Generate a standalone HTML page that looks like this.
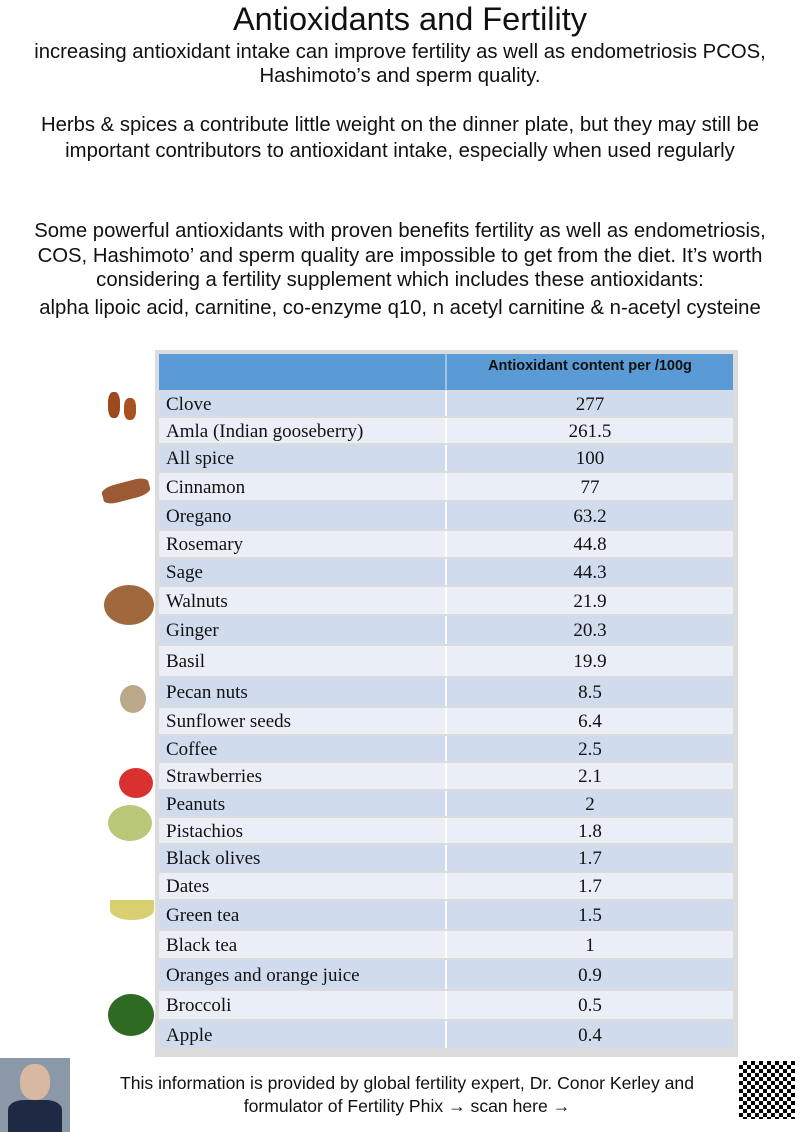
<!DOCTYPE html>
<html><head><meta charset="utf-8"><style>
body{margin:0;width:800px;height:1132px;background:#fff;position:relative;overflow:hidden;font-family:"Liberation Sans",sans-serif;color:#111}
.t{position:absolute;left:0;width:800px;text-align:center;white-space:nowrap}
.p{font-size:20.3px;line-height:24px}
.r{position:absolute;left:159px;width:574px;font-family:"Liberation Serif",serif;font-size:19px;line-height:20px;color:#111}
.r span{position:absolute;left:7px;top:50%;margin-top:-9px}
.r b{position:absolute;left:288px;width:286px;text-align:center;font-weight:normal;top:50%;margin-top:-9px}
.r i{position:absolute;left:286px;top:0;width:2px;height:100%;background:#fff}
.a{background:#d0dcee}.b{background:#e9eef7}
.ic{position:absolute;border-radius:50%}
</style></head><body>
<div class="t" style="top:0px;left:10px;font-size:32.5px;line-height:38px">Antioxidants and Fertility</div>
<div class="t p" style="top:40px">increasing antioxidant intake can improve fertility as well as endometriosis PCOS,</div>
<div class="t p" style="top:64px">Hashimoto’s and sperm quality.</div>
<div class="t p" style="top:113px">Herbs &amp; spices a contribute little weight on the dinner plate, but they may still be</div>
<div class="t p" style="top:139px">important contributors to antioxidant intake, especially when used regularly</div>
<div class="t p" style="top:219px">Some powerful antioxidants with proven benefits fertility as well as endometriosis,</div>
<div class="t p" style="top:244px">COS, Hashimoto’ and sperm quality are impossible to get from the diet. It’s worth</div>
<div class="t p" style="top:268px">considering a fertility supplement which includes these antioxidants:</div>
<div class="t p" style="top:296px">alpha lipoic acid, carnitine, co-enzyme q10, n acetyl carnitine &amp;  n-acetyl cysteine</div>
<div style="position:absolute;left:155px;top:350px;width:583px;height:707px;background:#dcdcdc"></div>
<div style="position:absolute;left:159px;top:354px;width:574px;height:36px;background:#5b9bd5"></div>
<div style="position:absolute;left:445px;top:354px;width:2px;height:36px;background:#9cc3e8"></div>
<div style="position:absolute;left:447px;top:358px;width:286px;text-align:center;font-weight:bold;font-size:14.5px">Antioxidant content per /100g</div>

<div class="r a" style="top:391px;height:25px"><span>Clove</span><i></i><b>277</b></div>
<div class="r b" style="top:418px;height:25px"><span>Amla (Indian gooseberry)</span><i></i><b>261.5</b></div>
<div class="r a" style="top:445px;height:26px"><span>All spice</span><i></i><b>100</b></div>
<div class="r b" style="top:473px;height:27px"><span>Cinnamon</span><i></i><b>77</b></div>
<div class="r a" style="top:502px;height:27px"><span>Oregano</span><i></i><b>63.2</b></div>
<div class="r b" style="top:531px;height:26px"><span>Rosemary</span><i></i><b>44.8</b></div>
<div class="r a" style="top:559px;height:26px"><span>Sage</span><i></i><b>44.3</b></div>
<div class="r b" style="top:587px;height:27px"><span>Walnuts</span><i></i><b>21.9</b></div>
<div class="r a" style="top:616px;height:28px"><span>Ginger</span><i></i><b>20.3</b></div>
<div class="r b" style="top:646px;height:30px"><span>Basil</span><i></i><b>19.9</b></div>
<div class="r a" style="top:678px;height:28px"><span>Pecan nuts</span><i></i><b>8.5</b></div>
<div class="r b" style="top:708px;height:26px"><span>Sunflower seeds</span><i></i><b>6.4</b></div>
<div class="r a" style="top:736px;height:25px"><span>Coffee</span><i></i><b>2.5</b></div>
<div class="r b" style="top:763px;height:26px"><span>Strawberries</span><i></i><b>2.1</b></div>
<div class="r a" style="top:791px;height:25px"><span>Peanuts</span><i></i><b>2</b></div>
<div class="r b" style="top:818px;height:25px"><span>Pistachios</span><i></i><b>1.8</b></div>
<div class="r a" style="top:845px;height:26px"><span>Black olives</span><i></i><b>1.7</b></div>
<div class="r b" style="top:873px;height:26px"><span>Dates</span><i></i><b>1.7</b></div>
<div class="r a" style="top:901px;height:28px"><span>Green tea</span><i></i><b>1.5</b></div>
<div class="r b" style="top:931px;height:27px"><span>Black tea</span><i></i><b>1</b></div>
<div class="r a" style="top:960px;height:29px"><span>Oranges and orange juice</span><i></i><b>0.9</b></div>
<div class="r b" style="top:991px;height:28px"><span>Broccoli</span><i></i><b>0.5</b></div>
<div class="r a" style="top:1021px;height:27px"><span>Apple</span><i></i><b>0.4</b></div>

<div class="ic" style="left:108px;top:392px;width:12px;height:26px;background:#9a4a1c;border-radius:40%"></div>
<div class="ic" style="left:124px;top:398px;width:12px;height:22px;background:#a8521f;border-radius:40%"></div>
<div class="ic" style="left:102px;top:482px;width:48px;height:18px;background:#9c5a34;border-radius:30%;transform:rotate(-15deg)"></div>
<div class="ic" style="left:104px;top:585px;width:50px;height:40px;background:#a0683d"></div>
<div class="ic" style="left:120px;top:685px;width:26px;height:28px;background:#bba88a"></div>
<div class="ic" style="left:119px;top:768px;width:34px;height:30px;background:#d93030"></div>
<div class="ic" style="left:108px;top:805px;width:44px;height:36px;background:#b8c878"></div>
<div class="ic" style="left:110px;top:900px;width:44px;height:20px;background:#d8d070;border-radius:0 0 50% 50%"></div>
<div class="ic" style="left:108px;top:994px;width:46px;height:42px;background:#2f6a22"></div>
<div style="position:absolute;left:0;top:1058px;width:70px;height:74px;background:#8a98a8"></div>
<div style="position:absolute;left:20px;top:1064px;width:30px;height:36px;background:#d8b8a0;border-radius:45%"></div>
<div style="position:absolute;left:8px;top:1100px;width:54px;height:32px;background:#1e2a44;border-radius:30% 30% 0 0"></div>
<div class="t" style="top:1072px;left:7px;font-size:17.6px;line-height:23px">This information is provided by global fertility expert, Dr. Conor Kerley and<br>formulator of Fertility Phix → scan here →</div>
<div style="position:absolute;left:739px;top:1061px;width:56px;height:58px;background:repeating-conic-gradient(#000 0 25%,#fff 0 50%) 0 0/8px 8px"></div>
</body></html>
